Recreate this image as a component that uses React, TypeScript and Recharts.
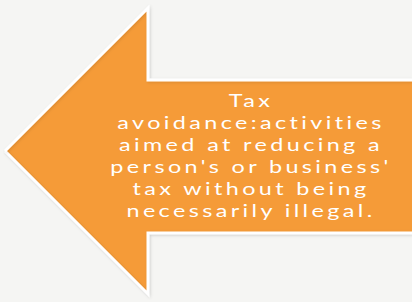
import React from 'react';
import { ComposedChart, Area, XAxis, YAxis, ReferenceDot } from 'recharts';

const arrowX = [5, 148, 148, 412];
const arrowLow = [151, 8, 80, 80];
const arrowHigh = [151, 294, 233, 233];
const textLines = [
  'Tax',
  'avoidance:activities',
  'aimed at reducing a',
  "person's or business'",
  'tax without being',
  'necessarily illegal.',
];
const textBaselines = [107, 129, 151, 173, 195, 217];
const textCenterX = 251;

const data = arrowX.map((x, i) => ({ x, band: [arrowLow[i], arrowHigh[i]] }));

const makeLabel = (t: string) => (props: any) => {
  const vb = props.viewBox || {};
  const cx = (vb.x ?? 0) + (vb.width ?? 0) / 2;
  const cy = (vb.y ?? 0) + (vb.height ?? 0) / 2;
  return (
    <g transform={`translate(${cx},${cy}) scale(1.3,1)`}>
      <text
        x={0}
        y={0}
        textAnchor="middle"
        fill="#ffffff"
        fontFamily="Lato, 'Open Sans', sans-serif"
        fontSize={18}
        style={{ letterSpacing: '2.6px' }}
      >
        {t}
      </text>
    </g>
  );
};

export default function App() {
  return (
    <div style={{ position: 'fixed', left: 0, top: 0, width: 412, height: 302, background: '#f5f5f3' }}>
      <ComposedChart width={412} height={302} data={data} margin={{ top: 0, right: 0, bottom: 0, left: 0 }}>
        <defs>
          <filter id="sh" x="-10%" y="-10%" width="120%" height="120%">
            <feDropShadow dx="1" dy="1" stdDeviation="1.5" floodColor="#000" floodOpacity="0.12" />
          </filter>
        </defs>
        <XAxis dataKey="x" type="number" domain={[0, 412]} hide allowDataOverflow />
        <YAxis type="number" domain={[0, 302]} reversed hide allowDataOverflow />
        <Area
          dataKey="band"
          type="linear"
          fill="#f59b39"
          fillOpacity={1}
          stroke="#ffffff"
          strokeWidth={3}
          isAnimationActive={false}
          dot={false}
          activeDot={false}
          style={{ filter: 'url(#sh)' }}
        />
        {textLines.map((t, i) => (
          <ReferenceDot
            key={i}
            x={textCenterX}
            y={textBaselines[i]}
            r={0}
            fill="none"
            stroke="none"
            label={{ content: makeLabel(t) }}
          />
        ))}
      </ComposedChart>
    </div>
  );
}
